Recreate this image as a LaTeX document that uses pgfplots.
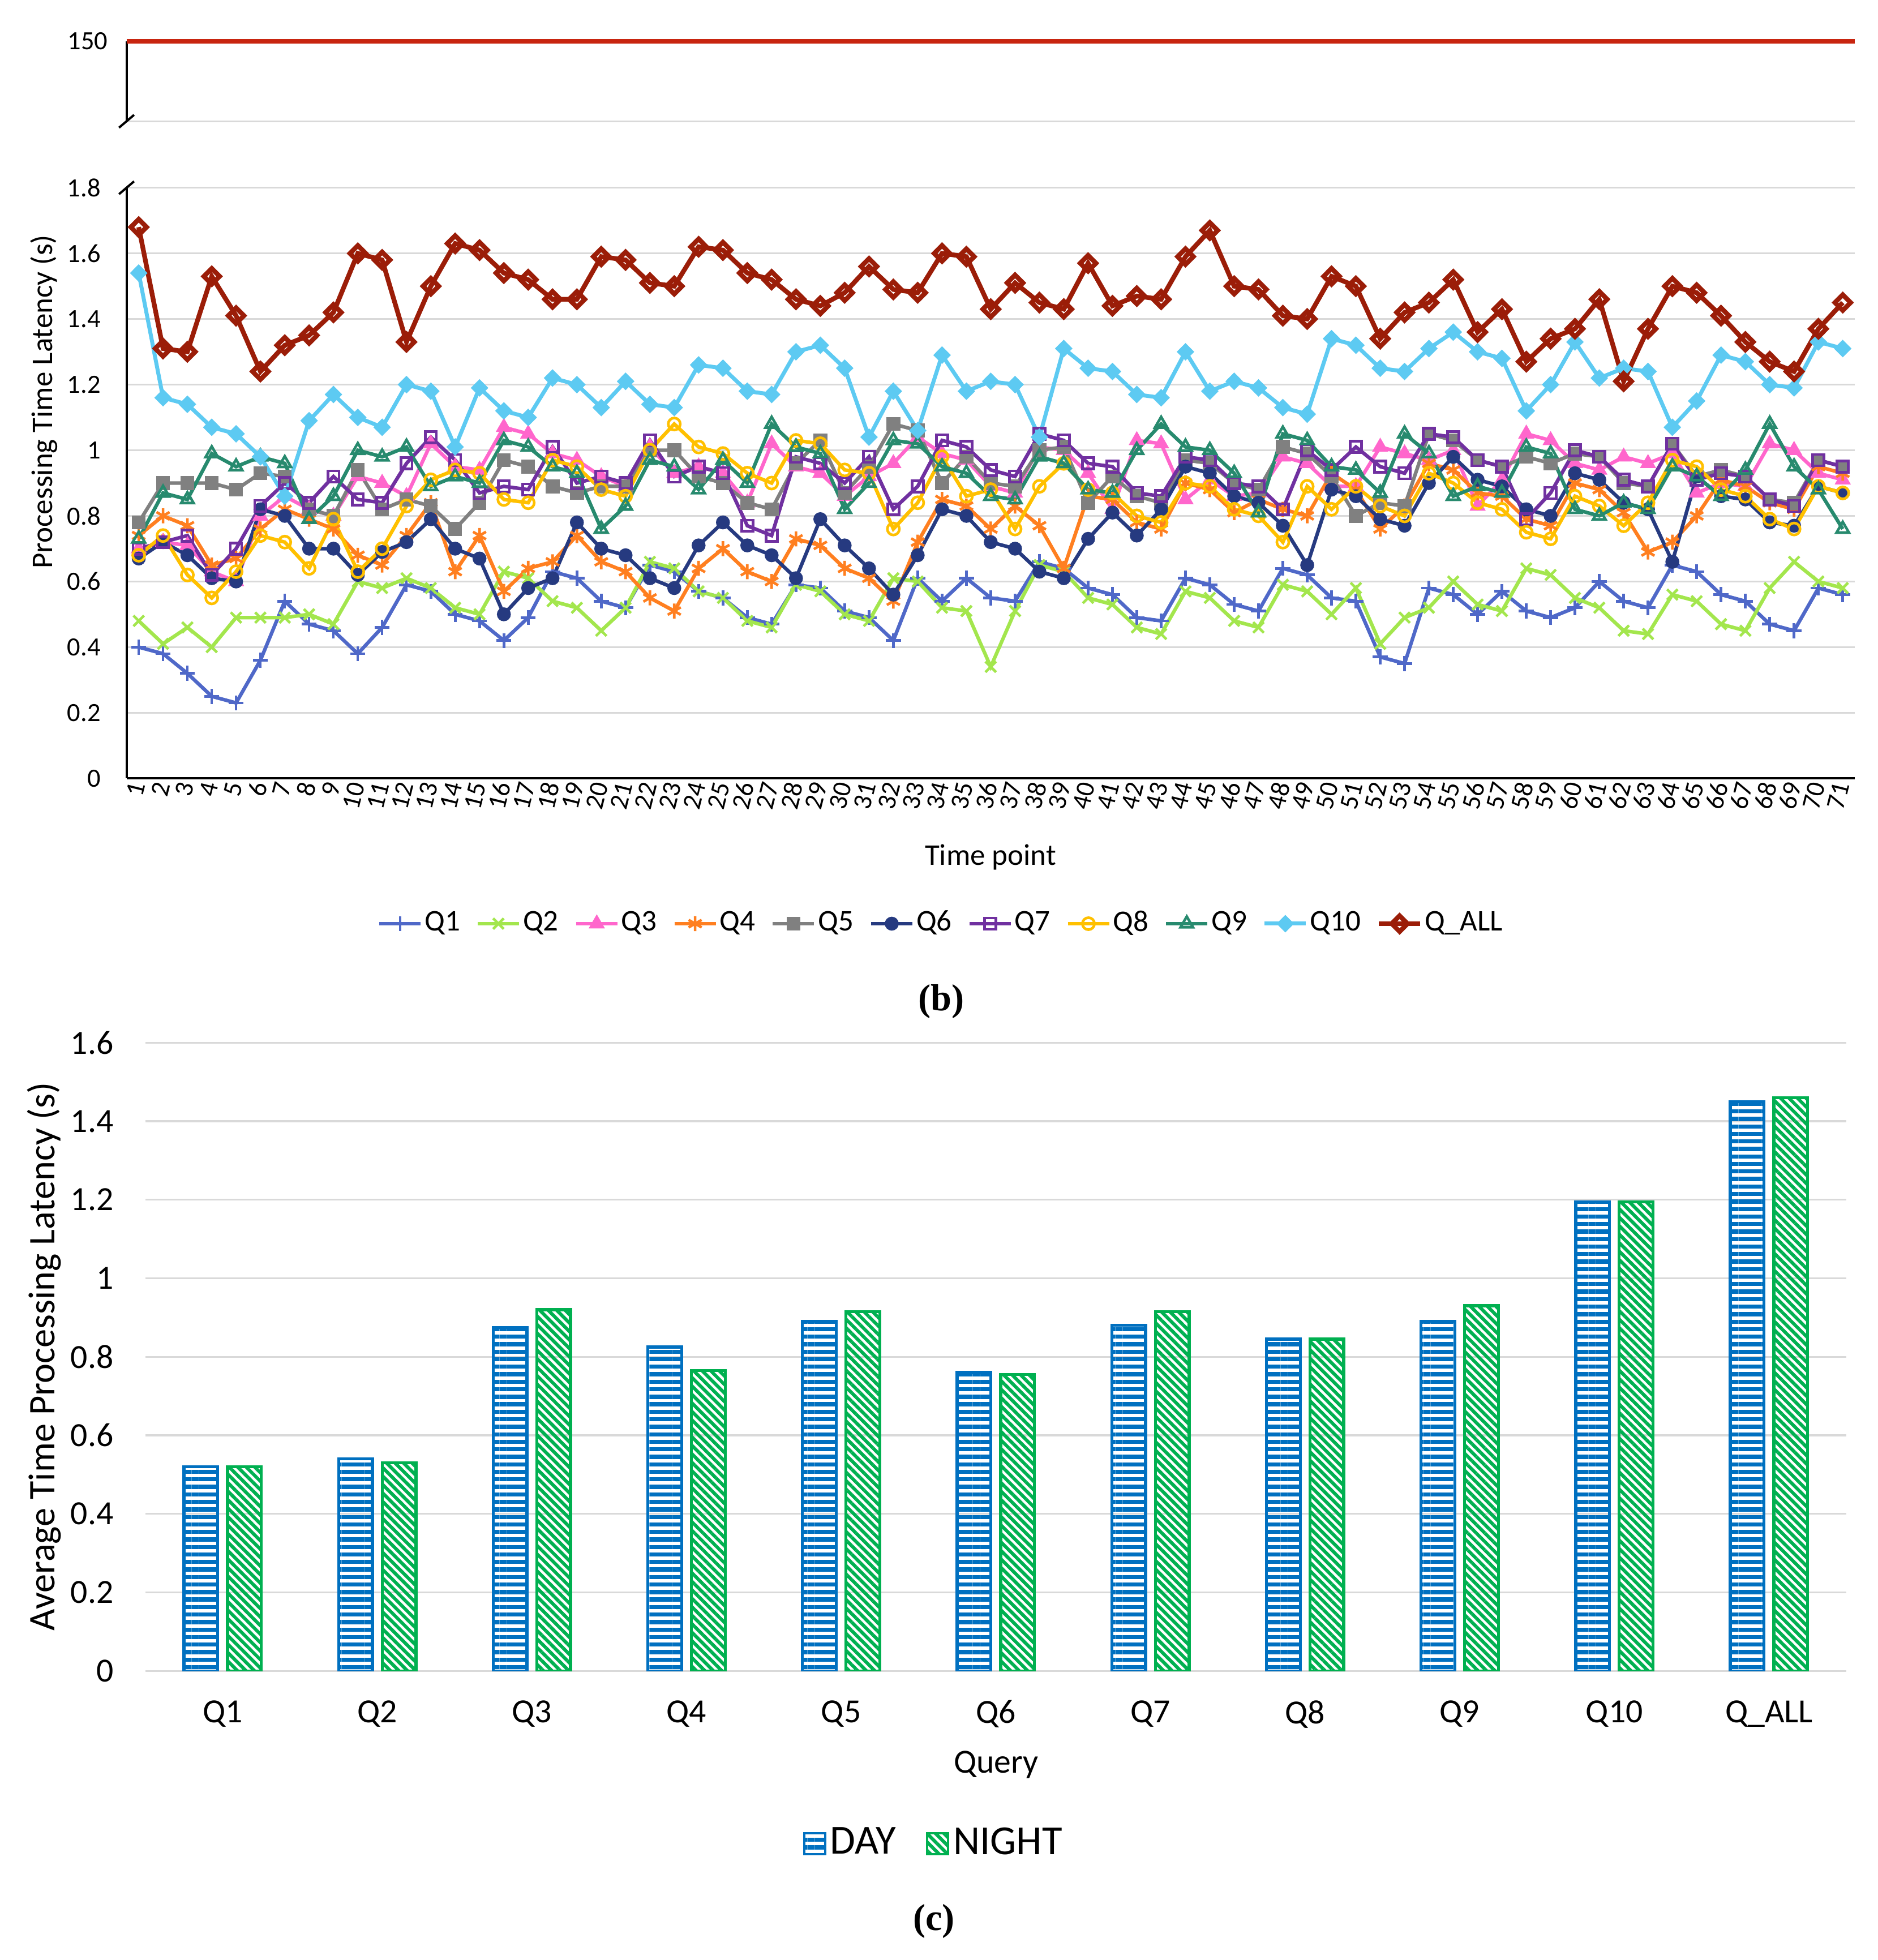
\documentclass[border=0pt]{standalone}
\usepackage{fontspec}
\setmainfont{Carlito}
\newfontfamily\capfont{Liberation Serif}
\usepackage{pgfplots}
\pgfplotsset{compat=1.18}
\usepackage{pgfplotstable}
\usetikzlibrary{patterns.meta}

\definecolor{cq1}{RGB}{79,104,200}
\definecolor{cq2}{RGB}{163,230,77}
\definecolor{cq3}{RGB}{255,102,204}
\definecolor{cq4}{RGB}{255,127,32}
\definecolor{cq5}{RGB}{128,128,128}
\definecolor{cq6}{RGB}{38,58,128}
\definecolor{cq7}{RGB}{112,48,160}
\definecolor{cq8}{RGB}{255,192,0}
\definecolor{cq9}{RGB}{39,138,110}
\definecolor{cq10}{RGB}{93,202,242}
\definecolor{cqall}{RGB}{155,29,8}
\definecolor{cred}{RGB}{200,37,15}
\definecolor{gridgray}{RGB}{217,217,217}
\definecolor{dayblue}{RGB}{0,112,192}
\definecolor{nightgreen}{RGB}{0,176,80}

\pgfplotstableread{
t q1 q2 q3 q4 q5 q6 q7 q8 q9 q10 qall
1 0.40 0.48 0.70 0.74 0.78 0.67 0.70 0.68 0.73 1.54 1.68
2 0.38 0.41 0.72 0.80 0.90 0.72 0.72 0.74 0.87 1.16 1.31
3 0.32 0.46 0.71 0.77 0.90 0.68 0.74 0.62 0.85 1.14 1.30
4 0.25 0.40 0.63 0.65 0.90 0.61 0.62 0.55 0.99 1.07 1.53
5 0.23 0.49 0.60 0.67 0.88 0.60 0.70 0.63 0.95 1.05 1.41
6 0.36 0.49 0.80 0.76 0.93 0.82 0.83 0.74 0.98 0.98 1.24
7 0.54 0.49 0.86 0.82 0.92 0.80 0.90 0.72 0.96 0.86 1.32
8 0.47 0.50 0.82 0.79 0.82 0.70 0.84 0.64 0.79 1.09 1.35
9 0.45 0.47 0.80 0.76 0.80 0.70 0.92 0.79 0.86 1.17 1.42
10 0.38 0.60 0.92 0.68 0.94 0.62 0.85 0.63 1.00 1.10 1.60
11 0.46 0.58 0.90 0.65 0.82 0.69 0.84 0.70 0.98 1.07 1.58
12 0.59 0.61 0.86 0.74 0.85 0.72 0.96 0.83 1.01 1.20 1.33
13 0.57 0.58 1.02 0.84 0.83 0.79 1.04 0.91 0.89 1.18 1.50
14 0.50 0.52 0.95 0.63 0.76 0.70 0.97 0.94 0.92 1.01 1.63
15 0.48 0.50 0.94 0.74 0.84 0.67 0.87 0.93 0.90 1.19 1.61
16 0.42 0.63 1.07 0.57 0.97 0.50 0.89 0.85 1.03 1.12 1.54
17 0.49 0.61 1.05 0.64 0.95 0.58 0.88 0.84 1.01 1.10 1.52
18 0.63 0.54 0.99 0.66 0.89 0.61 1.01 0.97 0.95 1.22 1.46
19 0.61 0.52 0.97 0.74 0.87 0.78 0.90 0.95 0.93 1.20 1.46
20 0.54 0.45 0.92 0.66 0.89 0.70 0.92 0.88 0.76 1.13 1.59
21 0.52 0.52 0.89 0.63 0.89 0.68 0.90 0.86 0.83 1.21 1.58
22 0.65 0.66 1.01 0.55 1.00 0.61 1.03 1.00 0.97 1.14 1.51
23 0.63 0.64 0.93 0.51 1.00 0.58 0.92 1.08 0.95 1.13 1.50
24 0.57 0.57 0.95 0.64 0.92 0.71 0.95 1.01 0.88 1.26 1.62
25 0.55 0.55 0.93 0.70 0.90 0.78 0.93 0.99 0.97 1.25 1.61
26 0.49 0.48 0.84 0.63 0.84 0.71 0.77 0.93 0.90 1.18 1.54
27 0.47 0.46 1.02 0.60 0.82 0.68 0.74 0.90 1.08 1.17 1.52
28 0.59 0.59 0.95 0.73 0.96 0.61 0.98 1.03 1.01 1.30 1.46
29 0.58 0.57 0.93 0.71 1.03 0.79 0.96 1.02 0.99 1.32 1.44
30 0.51 0.50 0.86 0.64 0.87 0.71 0.90 0.94 0.82 1.25 1.48
31 0.49 0.48 0.92 0.61 0.95 0.64 0.98 0.93 0.90 1.04 1.56
32 0.42 0.61 0.96 0.54 1.08 0.56 0.82 0.76 1.03 1.18 1.49
33 0.61 0.60 1.04 0.72 1.06 0.68 0.89 0.84 1.02 1.06 1.48
34 0.54 0.52 0.99 0.85 0.90 0.82 1.03 0.98 0.95 1.29 1.60
35 0.61 0.51 0.97 0.83 0.98 0.80 1.01 0.86 0.93 1.18 1.59
36 0.55 0.34 0.89 0.76 0.90 0.72 0.94 0.88 0.86 1.21 1.43
37 0.54 0.51 0.87 0.83 0.89 0.70 0.92 0.76 0.85 1.20 1.51
38 0.66 0.65 1.01 0.77 1.00 0.63 1.05 0.89 0.98 1.04 1.45
39 0.64 0.63 1.00 0.64 1.01 0.61 1.03 0.96 0.96 1.31 1.43
40 0.58 0.55 0.93 0.86 0.84 0.73 0.96 0.88 0.88 1.25 1.57
41 0.56 0.53 0.82 0.85 0.92 0.81 0.95 0.87 0.87 1.24 1.44
42 0.49 0.46 1.03 0.78 0.86 0.74 0.87 0.80 1.00 1.17 1.47
43 0.48 0.44 1.02 0.76 0.84 0.82 0.86 0.78 1.08 1.16 1.46
44 0.61 0.57 0.85 0.90 0.97 0.95 0.98 0.90 1.01 1.30 1.59
45 0.59 0.55 0.91 0.88 0.96 0.93 0.97 0.89 1.00 1.18 1.67
46 0.53 0.48 0.86 0.81 0.90 0.86 0.90 0.82 0.93 1.21 1.50
47 0.51 0.46 0.87 0.85 0.88 0.84 0.89 0.80 0.81 1.19 1.49
48 0.64 0.59 0.98 0.82 1.01 0.77 0.82 0.72 1.05 1.13 1.41
49 0.62 0.57 0.96 0.80 0.99 0.65 1.00 0.89 1.03 1.11 1.40
50 0.55 0.50 0.89 0.93 0.92 0.88 0.94 0.82 0.95 1.34 1.53
51 0.54 0.58 0.89 0.88 0.80 0.86 1.01 0.89 0.94 1.32 1.50
52 0.37 0.41 1.01 0.76 0.84 0.79 0.95 0.83 0.87 1.25 1.34
53 0.35 0.49 0.99 0.83 0.83 0.77 0.93 0.80 1.05 1.24 1.42
54 0.58 0.52 0.97 0.96 1.05 0.90 1.05 0.93 0.99 1.31 1.45
55 0.56 0.60 1.00 0.94 1.03 0.98 1.04 0.90 0.86 1.36 1.52
56 0.50 0.53 0.83 0.87 0.97 0.91 0.97 0.84 0.89 1.30 1.36
57 0.57 0.51 0.91 0.86 0.95 0.89 0.95 0.82 0.87 1.28 1.43
58 0.51 0.64 1.05 0.79 0.98 0.82 0.79 0.75 1.01 1.12 1.27
59 0.49 0.62 1.03 0.77 0.96 0.80 0.87 0.73 0.99 1.20 1.34
60 0.52 0.55 0.96 0.90 0.99 0.93 1.00 0.86 0.82 1.33 1.37
61 0.60 0.52 0.94 0.88 0.98 0.91 0.98 0.83 0.80 1.22 1.46
62 0.54 0.45 0.98 0.81 0.90 0.84 0.91 0.77 0.84 1.25 1.21
63 0.52 0.44 0.96 0.69 0.89 0.82 0.89 0.84 0.82 1.24 1.37
64 0.65 0.56 0.99 0.72 1.02 0.66 1.02 0.97 0.95 1.07 1.50
65 0.63 0.54 0.87 0.80 0.92 0.92 0.91 0.95 0.92 1.15 1.48
66 0.56 0.47 0.90 0.91 0.94 0.86 0.93 0.88 0.86 1.29 1.41
67 0.54 0.45 0.89 0.89 0.92 0.85 0.92 0.86 0.94 1.27 1.33
68 0.47 0.58 1.02 0.84 0.85 0.78 0.85 0.79 1.08 1.20 1.27
69 0.45 0.66 1.00 0.82 0.84 0.77 0.83 0.76 0.95 1.19 1.24
70 0.58 0.60 0.93 0.95 0.97 0.89 0.97 0.89 0.88 1.33 1.37
71 0.56 0.58 0.91 0.93 0.95 0.87 0.95 0.87 0.76 1.31 1.45
}\tsdata

\pgfplotstableread{
x day night
0 0.52 0.52
1 0.54 0.53
2 0.875 0.92
3 0.825 0.765
4 0.89 0.915
5 0.76 0.755
6 0.88 0.915
7 0.845 0.845
8 0.89 0.93
9 1.195 1.195
10 1.45 1.46
}\bardata

\pgfplotsset{
  noarrows/.style={
    axis line style={-},
    every outer x axis line/.append style={-},
    every outer y axis line/.append style={-},
    every inner x axis line/.append style={-},
    every inner y axis line/.append style={-},
  },
  ser/.style={line width=0.95pt, mark options={solid, line width=0.7pt}},
}

\begin{document}
\begin{tikzpicture}
\path[use as bounding box] (0,0) rectangle (500pt,-522pt);

% upper broken part
\begin{axis}[
  at={(33.7pt,-11pt)}, anchor=north west, scale only axis,
  width=460.3pt, height=21.3pt,
  xmin=0.5, xmax=71.5, ymin=140, ymax=150,
  axis x line=none, axis y line=left, noarrows,
  axis line style={line width=0.6pt, black},
  ytick={140,150}, yticklabels={,150},
  ymajorgrids, grid style={line width=0.5pt, gridgray},
  major tick length=0pt,
  /pgf/number format/assume math mode=true,
  yticklabel style={font=\fontsize{7}{8}\selectfont, anchor=east, inner sep=0pt, xshift=-4.8pt},
  clip=false,
]
\addplot[color=cred, line width=1.3pt, no marks] coordinates {(0.5,150) (71.5,150)};
\end{axis}

% main line chart
\begin{axis}[
  at={(33.7pt,-50pt)}, anchor=north west, scale only axis,
  width=460.3pt, height=157.3pt,
  xmin=0.5, xmax=71.5, ymin=0, ymax=1.8,
  axis x line=bottom, axis y line=left, noarrows,
  axis line style={line width=0.6pt, black},
  xtick={1,...,71},
  ytick={0,0.2,0.4,0.6,0.8,1,1.2,1.4,1.6,1.8},
  ymajorgrids, grid style={line width=0.5pt, gridgray},
  major tick length=0pt,
  /pgf/number format/assume math mode=true,
  yticklabel style={font=\fontsize{7}{8}\selectfont, anchor=east, inner sep=0pt, xshift=-6.7pt},
  xticklabel style={font=\fontsize{7}{8}\selectfont, rotate=76, anchor=east, inner sep=1pt},
  clip=false,
  legend style={at={(0.4714,-0.246)}, anchor=center, draw=none, fill=none,
    font=\fontsize{8}{9}\selectfont, legend columns=-1,
    nodes={inner sep=0.6pt},
    /tikz/every even column/.append style={column sep=3.6pt}},
  legend image code/.code={\draw[mark repeat=2, mark phase=2, #1] plot coordinates {(0pt,0pt) (5.5pt,0pt) (11pt,0pt)};},
]
\addplot[ser, cq1, mark=+, mark size=2pt] table[x=t, y=q1] {\tsdata};
\addplot[ser, cq2, mark=x, mark size=2pt] table[x=t, y=q2] {\tsdata};
\addplot[ser, cq3, mark=triangle*, mark size=1.8pt] table[x=t, y=q3] {\tsdata};
\addplot[ser, cq4, mark=asterisk, mark size=2pt] table[x=t, y=q4] {\tsdata};
\addplot[ser, cq5, mark=square*, mark size=1.5pt] table[x=t, y=q5] {\tsdata};
\addplot[ser, cq6, mark=*, mark size=1.5pt] table[x=t, y=q6] {\tsdata};
\addplot[ser, cq7, mark=square, mark size=1.5pt] table[x=t, y=q7] {\tsdata};
\addplot[ser, cq8, mark=o, mark size=1.6pt] table[x=t, y=q8] {\tsdata};
\addplot[ser, cq9, mark=triangle, mark size=1.9pt] table[x=t, y=q9] {\tsdata};
\addplot[ser, cq10, line width=1.05pt, mark=diamond*, mark size=1.6pt, mark options={xscale=1.33}] table[x=t, y=q10] {\tsdata};
\addplot[ser, cqall, line width=1.25pt, mark=diamond, mark size=2.1pt, mark options={xscale=1.33}] table[x=t, y=qall] {\tsdata};
\legend{Q1,Q2,Q3,Q4,Q5,Q6,Q7,Q8,Q9,Q10,Q\_ALL}
\end{axis}

% axis break marks
\draw[line width=0.6pt] (31.7pt,-34.0pt) -- (35.7pt,-30.6pt);
\draw[line width=0.6pt] (31.7pt,-51.7pt) -- (35.7pt,-48.3pt);

\node[rotate=90, font=\fontsize{8}{9}\selectfont] at (11.7pt,-107pt) {Processing Time Latency (s)};
\node[font=\fontsize{8}{9}\selectfont] at (263.8pt,-228.3pt) {Time point};
\node[font=\capfont\bfseries\fontsize{10}{12}\selectfont] at (250.7pt,-266.7pt) {(b)};

% bar chart
\begin{axis}[
  at={(38.7pt,-277.7pt)}, anchor=north west, scale only axis,
  width=453pt, height=167.3pt,
  xmin=-0.5, xmax=10.5, ymin=0, ymax=1.6,
  ybar, bar width=9pt,
  axis line style={draw=none},
  major tick length=0pt,
  xtick={0,...,10},
  xticklabels={Q1,Q2,Q3,Q4,Q5,Q6,Q7,Q8,Q9,Q10,Q\_ALL},
  ytick={0,0.2,0.4,0.6,0.8,1,1.2,1.4,1.6},
  ymajorgrids, grid style={line width=0.5pt, gridgray},
  /pgf/number format/assume math mode=true,
  yticklabel style={font=\fontsize{9}{10}\selectfont, anchor=east, inner sep=0pt, xshift=-8.3pt},
  xticklabel style={font=\fontsize{9}{10}\selectfont, anchor=north, inner sep=0pt, yshift=-7.7pt},
  legend style={at={(0.464,-0.275)}, anchor=center, draw=none, fill=none,
    font=\fontsize{11}{13}\selectfont, legend columns=-1,
    nodes={inner sep=1pt},
    /tikz/every even column/.append style={column sep=7pt}},
  legend image code/.code={\draw[#1, line width=0.6pt] (0pt,-2.8pt) rectangle (5.6pt,2.8pt);},
]
\addplot[draw=dayblue, line width=0.8pt, pattern={Lines[angle=0,distance=2pt,line width=1.1pt]}, pattern color=dayblue, bar shift=-5.8pt] table[x=x, y=day] {\bardata};
\addplot[draw=nightgreen, line width=0.8pt, pattern={Lines[angle=-45,distance=1.6pt,line width=0.9pt]}, pattern color=nightgreen, bar shift=5.8pt] table[x=x, y=night] {\bardata};
\legend{DAY,NIGHT}
\end{axis}

\node[rotate=90, font=\fontsize{10}{12}\selectfont] at (11.7pt,-361.3pt) {Average Time Processing Latency (s)};
\node[font=\fontsize{9}{10}\selectfont] at (265.3pt,-470pt) {Query};
\node[font=\capfont\bfseries\fontsize{10}{12}\selectfont] at (248.7pt,-511.7pt) {(c)};
\end{tikzpicture}
\end{document}
